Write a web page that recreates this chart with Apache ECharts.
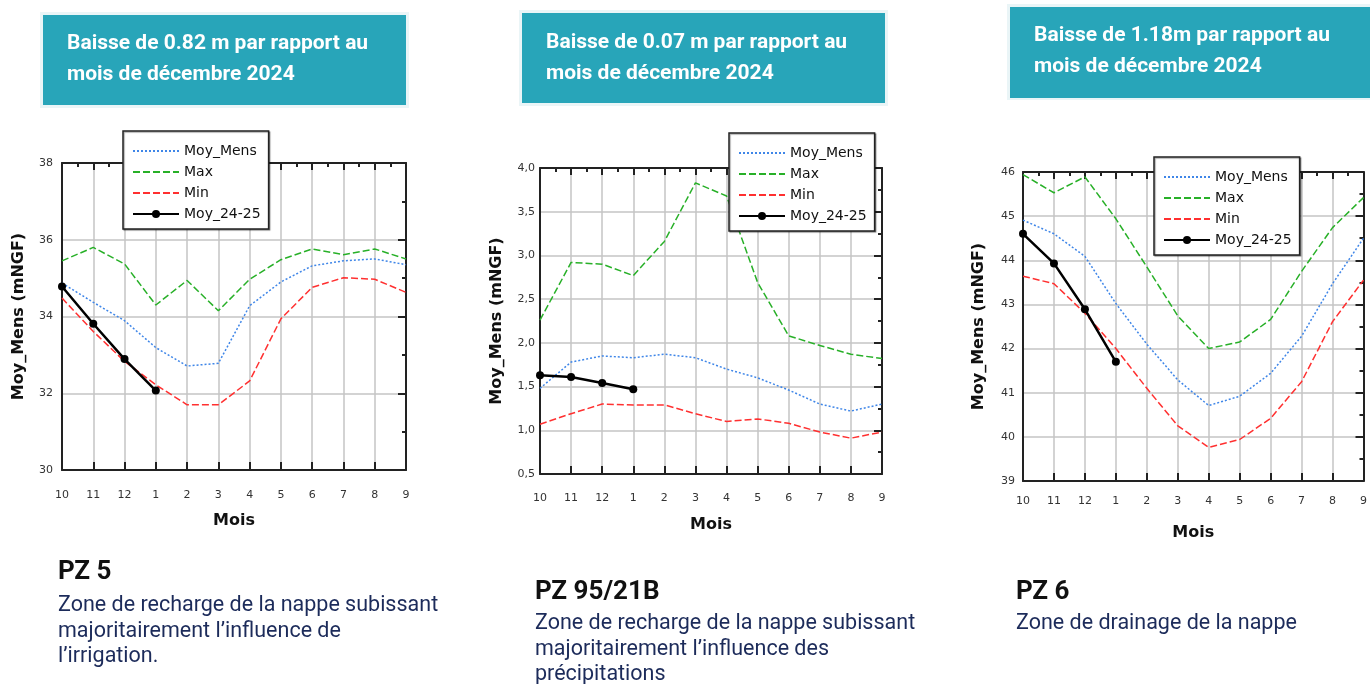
<!DOCTYPE html>
<html>
<head>
<meta charset="utf-8">
<script src="https://cdn.jsdelivr.net/npm/echarts@6/dist/echarts.min.js"></script>
<style>
  html, body { margin: 0; padding: 0; background: #fff; }
  #main { width: 1370px; height: 684px; }
</style>
</head>
<body>
<div id="main"></div>
<script>
// months of the hydrological year (oct -> sep)
const months = ['10', '11', '12', '1', '2', '3', '4', '5', '6', '7', '8', '9'];
const seriesNames = ['Moy_Mens', 'Max', 'Min', 'Moy_24-25'];

// PZ 5
const pz5Moy = [34.87, 34.37, 33.89, 33.19, 32.71, 32.78, 34.28, 34.90, 35.32, 35.45, 35.50, 35.35];
const pz5Max = [35.45, 35.80, 35.37, 34.30, 34.94, 34.15, 34.97, 35.48, 35.76, 35.61, 35.76, 35.50];
const pz5Min = [34.48, 33.61, 32.83, 32.22, 31.70, 31.70, 32.32, 33.94, 34.76, 35.01, 34.97, 34.63];
const pz5Cur = [34.78, 33.81, 32.89, 32.07];

// PZ 95/21B
const pz95Moy = [1.48, 1.78, 1.85, 1.83, 1.87, 1.83, 1.70, 1.60, 1.46, 1.30, 1.22, 1.30];
const pz95Max = [2.26, 2.92, 2.90, 2.77, 3.16, 3.83, 3.68, 2.69, 2.08, 1.97, 1.87, 1.82];
const pz95Min = [1.07, 1.19, 1.30, 1.29, 1.29, 1.19, 1.10, 1.13, 1.08, 0.98, 0.91, 0.98];
const pz95Cur = [1.63, 1.61, 1.54, 1.47];

// PZ 6
const pz6Moy = [44.91, 44.60, 44.09, 43.02, 42.10, 41.29, 40.71, 40.92, 41.44, 42.28, 43.47, 44.50];
const pz6Max = [45.94, 45.53, 45.89, 44.94, 43.85, 42.74, 42.00, 42.15, 42.66, 43.75, 44.74, 45.42];
const pz6Min = [43.64, 43.47, 42.80, 42.00, 41.10, 40.25, 39.76, 39.94, 40.42, 41.25, 42.61, 43.55];
const pz6Cur = [44.60, 43.93, 42.89, 41.70];

const headers = [
  'Baisse de 0.82 m par rapport au\nmois de décembre 2024',
  'Baisse de 0.07 m par rapport au\nmois de décembre 2024',
  'Baisse de 1.18m par rapport au\nmois de décembre 2024'
];

const chart = echarts.init(document.getElementById('main'));

const panels = [
  { moy: pz5Moy, max: pz5Max, min: pz5Min, cur: pz5Cur, yMin: 30, yMax: 38, step: 2,
    grid: { left: 62, top: 163, width: 344, height: 307 },
    legend: { left: 123, top: 131 }, labelMargin: 20, nameGap: 43, yNameGap: 35, yLabelMargin: 9,
    fmt: v => String(v) },
  { moy: pz95Moy, max: pz95Max, min: pz95Min, cur: pz95Cur, yMin: 0.5, yMax: 4, step: 0.5,
    grid: { left: 540, top: 168, width: 342, height: 306 },
    legend: { left: 729, top: 133 }, labelMargin: 19, nameGap: 43, yNameGap: 35, yLabelMargin: 5,
    fmt: v => v.toFixed(1).replace('.', ',') },
  { moy: pz6Moy, max: pz6Max, min: pz6Min, cur: pz6Cur, yMin: 39, yMax: 46, step: 1,
    grid: { left: 1023, top: 172, width: 349, height: 309 },
    legend: { left: 1154, top: 157 }, labelMargin: 15, nameGap: 44, yNameGap: 36, yLabelMargin: 8,
    fmt: v => String(v) }
];

const frame = { lineStyle: { color: '#222', width: 2 } };
const tick = { lineStyle: { color: '#222', width: 2 } };
const grids = [], xAxes = [], yAxes = [], series = [], legends = [];

panels.forEach((p, i) => {
  grids.push(p.grid);
  // bottom category axis
  xAxes.push({
    type: 'category', gridIndex: i, data: months, boundaryGap: false,
    axisLine: frame,
    axisTick: { inside: true, length: 8, interval: 0, ...tick },
    axisLabel: { interval: 0, fontSize: 11, color: '#333', fontFamily: 'DejaVu Sans', margin: p.labelMargin },
    splitLine: { show: true, interval: 0, lineStyle: { color: '#c4c4c4', width: 1.5 } },
    name: 'Mois', nameLocation: 'middle', nameGap: p.nameGap,
    nameTextStyle: { fontSize: 16, fontWeight: 'bold', color: '#111', fontFamily: 'DejaVu Sans' }
  });
  // top frame with ticks
  xAxes.push({
    type: 'value', gridIndex: i, position: 'top', min: 0, max: 11, interval: 1,
    axisLine: frame,
    axisTick: { inside: true, length: 7, ...tick },
    minorTick: { show: true, splitNumber: 2, length: 4, lineStyle: { color: '#222', width: 2 } },
    axisLabel: { show: false }, splitLine: { show: false }
  });
  yAxes.push({
    type: 'value', gridIndex: i, min: p.yMin, max: p.yMax, interval: p.step,
    axisLine: { show: true, ...frame },
    axisTick: { show: false },
    axisLabel: { fontSize: 11, color: '#333', fontFamily: 'DejaVu Sans', margin: p.yLabelMargin, formatter: p.fmt },
    splitLine: { show: true, lineStyle: { color: '#c4c4c4', width: 1.5 } },
    name: 'Moy_Mens (mNGF)', nameLocation: 'middle', nameGap: p.yNameGap,
    nameTextStyle: { fontSize: 16, fontWeight: 'bold', color: '#111', fontFamily: 'DejaVu Sans' }
  });
  yAxes.push({
    type: 'value', gridIndex: i, position: 'right', min: p.yMin, max: p.yMax, interval: p.step,
    axisLine: { show: true, ...frame },
    axisTick: { show: true, inside: true, length: 8, ...tick },
    minorTick: { show: true, splitNumber: 2, length: 4, lineStyle: { color: '#222', width: 2 } },
    axisLabel: { show: false }, splitLine: { show: false }
  });

  const xi = i * 2, yi = i * 2;
  series.push(
    { name: 'Moy_Mens', type: 'line', xAxisIndex: xi, yAxisIndex: yi, data: p.moy, symbol: 'none',
      lineStyle: { color: '#3f86e8', width: 1.5, type: [2, 2] }, itemStyle: { color: '#3f86e8' }, z: 2 },
    { name: 'Max', type: 'line', xAxisIndex: xi, yAxisIndex: yi, data: p.max, symbol: 'none',
      lineStyle: { color: '#28b028', width: 1.5, type: [7, 3] }, itemStyle: { color: '#28b028' }, z: 2 },
    { name: 'Min', type: 'line', xAxisIndex: xi, yAxisIndex: yi, data: p.min, symbol: 'none',
      lineStyle: { color: '#ff3030', width: 1.5, type: [7, 3] }, itemStyle: { color: '#ff3030' }, z: 2 },
    { name: 'Moy_24-25', type: 'line', xAxisIndex: xi, yAxisIndex: yi, data: p.cur,
      symbol: 'circle', symbolSize: 8, lineStyle: { color: '#000', width: 2.5 }, itemStyle: { color: '#000' }, z: 3 }
  );

  legends.push({
    left: p.legend.left, top: p.legend.top, orient: 'vertical',
    backgroundColor: '#fff', borderColor: '#222', borderWidth: 1.5,
    shadowColor: 'rgba(0,0,0,0.35)', shadowOffsetX: 1, shadowOffsetY: 1, shadowBlur: 1,
    padding: [13, 8, 8, 9], itemWidth: 46, itemHeight: 10, itemGap: 7, z: 6,
    textStyle: { fontSize: 14, color: '#111', fontFamily: 'DejaVu Sans', padding: [0, 0, 0, 0] },
    selectedMode: false,
    data: seriesNames.map(n => n === 'Moy_24-25' ? { name: n } : { name: n, itemStyle: { opacity: 0 } })
  });
});

// header boxes and captions
const graphic = [
  { type: 'rect', shape: { x: 40, y: 12, width: 369, height: 96 }, style: { fill: '#eaf5f7' } },
  { type: 'rect', shape: { x: 43, y: 15, width: 363, height: 90 }, style: { fill: '#28a5b9' } },
  { type: 'rect', shape: { x: 519, y: 10, width: 369, height: 96 }, style: { fill: '#eaf5f7' } },
  { type: 'rect', shape: { x: 522, y: 13, width: 363, height: 90 }, style: { fill: '#28a5b9' } },
  { type: 'rect', shape: { x: 1007, y: 4, width: 370, height: 96 }, style: { fill: '#eaf5f7' } },
  { type: 'rect', shape: { x: 1010, y: 7, width: 370, height: 91 }, style: { fill: '#28a5b9' } }
];
const headPos = [[67, 28], [546, 27], [1034, 20]];
headers.forEach((t, i) => {
  graphic.push({ type: 'text', x: headPos[i][0], y: headPos[i][1],
    style: { text: t, fill: '#fff', font: 'bold 21px Roboto', lineHeight: 31 } });
});

const captions = [
  { x: 58, y: 559, title: 'PZ 5', body: 'Zone de recharge de la nappe subissant\nmajoritairement l’influence de\nl’irrigation.' },
  { x: 535, y: 579, title: 'PZ 95/21B', body: 'Zone de recharge de la nappe subissant\nmajoritairement l’influence des\nprécipitations' },
  { x: 1016, y: 579, title: 'PZ 6', body: 'Zone de drainage de la nappe' }
];
captions.forEach((c, i) => {
  graphic.push({ type: 'text', x: c.x, y: c.y,
    style: { text: c.title, fill: '#111', font: 'bold 26px Roboto' } });
  graphic.push({ type: 'text', x: c.x, y: c.y + (i === 0 ? 34 : 32),
    style: { text: c.body, fill: '#1c2b5a', font: '21.5px Roboto', lineHeight: 25.5 } });
});

chart.setOption({
  animation: false,
  backgroundColor: '#fff',
  grid: grids,
  xAxis: xAxes,
  yAxis: yAxes,
  legend: legends,
  series: series,
  graphic: graphic
});
</script>
</body>
</html>
